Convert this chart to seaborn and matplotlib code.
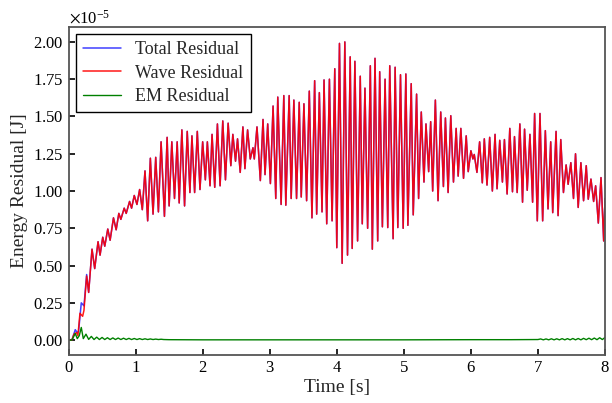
import numpy as np
import pandas as pd
import matplotlib
matplotlib.use("Agg")
import matplotlib.pyplot as plt
import seaborn as sns
from matplotlib.ticker import MultipleLocator, ScalarFormatter

# ---------------- data (values in units of 1e-5 J) ----------------
wave_t = [0.00, 0.05, 0.08, 0.12, 0.14, 0.17, 0.21, 0.23, 0.27, 0.30, 0.35, 0.39, 0.44, 0.47,
          0.51, 0.54, 0.585, 0.62, 0.67, 0.71, 0.75, 0.78, 0.83, 0.86, 0.91, 0.94, 0.98, 1.02,
          1.06, 1.10, 1.14, 1.18, 1.22, 1.26, 1.30, 1.34, 1.38, 1.43, 1.47, 1.50, 1.54, 1.58,
          1.62, 1.65, 1.69, 1.73, 1.77, 1.81, 1.84, 1.88, 1.92, 1.96, 2.00, 2.04, 2.07, 2.11,
          2.14, 2.18, 2.22, 2.26, 2.30, 2.34, 2.38, 2.42, 2.45, 2.49, 2.52, 2.56, 2.60, 2.63,
          2.67, 2.71, 2.75, 2.77, 2.81, 2.86, 2.90, 2.93, 2.97, 3.01, 3.05, 3.09, 3.12, 3.17,
          3.21, 3.24, 3.29, 3.32, 3.36, 3.40, 3.44, 3.47, 3.51, 3.55, 3.59, 3.63, 3.67, 3.70,
          3.74, 3.78, 3.81, 3.85, 3.89, 3.93, 3.97, 4.00, 4.04, 4.08, 4.12, 4.16, 4.20, 4.23,
          4.27, 4.31, 4.35, 4.38, 4.42, 4.46, 4.50, 4.53, 4.57, 4.61, 4.64, 4.68, 4.72, 4.76,
          4.79, 4.84, 4.87, 4.91, 4.95, 4.99, 5.03, 5.06, 5.11, 5.14, 5.19, 5.22, 5.26, 5.30,
          5.33, 5.37, 5.40, 5.43, 5.47, 5.51, 5.55, 5.59, 5.62, 5.66, 5.70, 5.74, 5.78, 5.81,
          5.85, 5.89, 5.93, 5.96, 6.00, 6.03, 6.05, 6.09, 6.13, 6.17, 6.20, 6.24, 6.28, 6.32,
          6.36, 6.39, 6.43, 6.47, 6.50, 6.54, 6.58, 6.62, 6.65, 6.69, 6.73, 6.77, 6.80, 6.84,
          6.88, 6.92, 6.95, 6.99, 7.03, 7.07, 7.11, 7.15, 7.19, 7.22, 7.27, 7.30, 7.34, 7.38,
          7.42, 7.45, 7.49, 7.53, 7.56, 7.60, 7.64, 7.68, 7.72, 7.75, 7.79, 7.83, 7.86, 7.90,
          7.94, 7.98, 8.00]
wave_v = [0.00, 0.00, 0.04, 0.05, 0.03, 0.18, 0.16, 0.20, 0.43, 0.32, 0.61, 0.48, 0.66, 0.57,
          0.69, 0.63, 0.745, 0.67, 0.82, 0.74, 0.85, 0.81, 0.885, 0.85, 0.93, 0.885, 0.97, 0.91,
          1.01, 0.875, 1.135, 0.80, 1.22, 0.845, 1.226, 0.86, 1.33, 0.83, 1.36, 0.90, 1.33, 0.95,
          1.33, 0.92, 1.41, 0.90, 1.40, 0.99, 1.37, 0.99, 1.40, 1.01, 1.33, 1.075, 1.33, 1.035,
          1.38, 1.025, 1.45, 1.035, 1.47, 1.075, 1.455, 1.17, 1.38, 1.20, 1.35, 1.125, 1.43, 1.15,
          1.41, 1.215, 1.29, 1.215, 1.43, 1.07, 1.48, 1.11, 1.45, 1.05, 1.57, 0.95, 1.63, 0.91,
          1.64, 0.905, 1.64, 0.95, 1.61, 0.95, 1.595, 0.96, 1.585, 0.935, 1.67, 0.82, 1.74, 0.845,
          1.66, 0.86, 1.745, 0.78, 1.75, 0.80, 1.82, 0.62, 1.99, 0.515, 2.00, 0.57, 1.90, 0.615,
          1.87, 0.665, 1.77, 0.78, 1.69, 0.75, 1.84, 0.61, 1.89, 0.665, 1.80, 0.76, 1.75, 0.755,
          1.84, 0.68, 1.83, 0.755, 1.78, 0.75, 1.785, 0.77, 1.72, 0.84, 1.65, 0.95, 1.53, 1.06,
          1.45, 1.13, 1.465, 1.00, 1.61, 0.935, 1.53, 1.03, 1.49, 0.99, 1.505, 1.06, 1.42, 1.10,
          1.42, 1.085, 1.37, 1.13, 1.27, 1.215, 1.245, 1.125, 1.33, 1.055, 1.35, 1.04, 1.36, 1.00,
          1.38, 1.015, 1.34, 1.06, 1.345, 0.98, 1.42, 0.995, 1.365, 0.99, 1.45, 0.925, 1.415, 1.005,
          1.38, 0.925, 1.52, 0.80, 1.52, 0.80, 1.405, 0.88, 1.33, 0.855, 1.40, 0.835, 1.345, 0.99,
          1.175, 1.045, 1.19, 0.95, 1.25, 0.89, 1.19, 0.935, 1.17, 0.945, 1.08, 0.93, 1.035, 0.785,
          1.09, 0.665, 0.95]

# Total residual: differs from the wave residual only at the very start
total_early_t = [0.00, 0.05, 0.10, 0.13, 0.15, 0.19, 0.21, 0.23, 0.27]
total_early_v = [0.00, 0.00, 0.07, 0.05, 0.06, 0.25, 0.24, 0.23, 0.44]

em_t = [0.00, 0.05, 0.10, 0.13, 0.16, 0.19, 0.22, 0.26, 0.30, 0.34, 0.38, 0.42, 0.46, 0.50,
        0.54, 0.58, 0.62, 0.66, 0.70, 0.74, 0.78, 0.82, 0.86, 0.90, 0.94, 0.98, 1.02, 1.06,
        1.10, 1.14, 1.18, 1.22, 1.26, 1.30, 1.34, 1.38, 1.42, 1.50, 2.00, 3.00, 4.00, 5.00,
        6.00, 6.60, 7.00, 7.04, 7.08, 7.12, 7.16, 7.20, 7.24, 7.28, 7.32, 7.36, 7.40, 7.44,
        7.48, 7.52, 7.56, 7.60, 7.64, 7.68, 7.72, 7.76, 7.80, 7.84, 7.88, 7.92, 7.96, 8.00]
em_v = [0.000, 0.000, 0.045, 0.010, 0.030, 0.085, 0.010, 0.040, 0.005, 0.025, 0.004, 0.020,
        0.004, 0.018, 0.004, 0.016, 0.004, 0.015, 0.004, 0.014, 0.004, 0.013, 0.004, 0.012,
        0.004, 0.011, 0.004, 0.010, 0.004, 0.009, 0.004, 0.008, 0.004, 0.007, 0.004, 0.006,
        0.004, 0.003, 0.002, 0.002, 0.002, 0.002, 0.003, 0.003, 0.004, 0.008, 0.002, 0.008,
        0.002, 0.009, 0.002, 0.009, 0.002, 0.010, 0.002, 0.010, 0.002, 0.011, 0.002, 0.011,
        0.002, 0.012, 0.003, 0.013, 0.003, 0.014, 0.003, 0.016, 0.004, 0.018]

labels = ["Total Residual", "Wave Residual", "EM Residual"]
x_ticks = [0, 1, 2, 3, 4, 5, 6, 7, 8]
SCALE = 1e-5

# ---------------- build frames ----------------
cut = total_early_t[-1]
total_t = total_early_t + [t for t in wave_t if t > cut]
total_v = total_early_v + [v for t, v in zip(wave_t, wave_v) if t > cut]

df_total = pd.DataFrame({"t": total_t, "E": np.array(total_v) * SCALE})
df_wave = pd.DataFrame({"t": wave_t, "E": np.array(wave_v) * SCALE})
df_em = pd.DataFrame({"t": em_t, "E": np.array(em_v) * SCALE})

# ---------------- style ----------------
sns.set_style("ticks")
plt.rcParams['font.family'] = ['Liberation Serif', 'DejaVu Serif']
plt.rcParams['mathtext.fontset'] = 'stix'

fig = plt.figure(figsize=(6.12, 4.03), dpi=100)
ax = fig.add_axes([0.112, 0.119, 0.8766, 0.814])

sns.lineplot(data=df_total, x="t", y="E", ax=ax, color="blue", lw=1.1, alpha=0.75,
             label=labels[0], sort=False, estimator=None)
sns.lineplot(data=df_wave, x="t", y="E", ax=ax, color="red", lw=1.1, alpha=0.9,
             label=labels[1], sort=False, estimator=None)
sns.lineplot(data=df_em, x="t", y="E", ax=ax, color="green", lw=1.0,
             label=labels[2], sort=False, estimator=None)

ax.set_xlim(0, 8)
ax.set_xticks(x_ticks)
ax.yaxis.set_major_locator(MultipleLocator(0.25e-5))
fmt = ScalarFormatter(useMathText=True)
fmt.set_powerlimits((-3, 3))
ax.yaxis.set_major_formatter(fmt)
ax.yaxis.get_offset_text().set_fontsize(12)

ax.set_xlabel("Time [s]", fontsize=14, labelpad=2)
ax.set_ylabel("Energy Residual [J]", fontsize=14, labelpad=4)
ax.tick_params(direction="in", length=4, width=1.2, labelsize=12, colors="black",
               top=False, right=False)
for s in ax.spines.values():
    s.set_linewidth(1.3)
    s.set_color("#555555")

leg = ax.legend(loc="upper left", fontsize=13, frameon=True, fancybox=False,
                framealpha=1, edgecolor="black", borderaxespad=0.4,
                handlelength=2.1, labelspacing=0.35)
leg.get_frame().set_linewidth(1.0)

fig.savefig("out.png", dpi=100)
